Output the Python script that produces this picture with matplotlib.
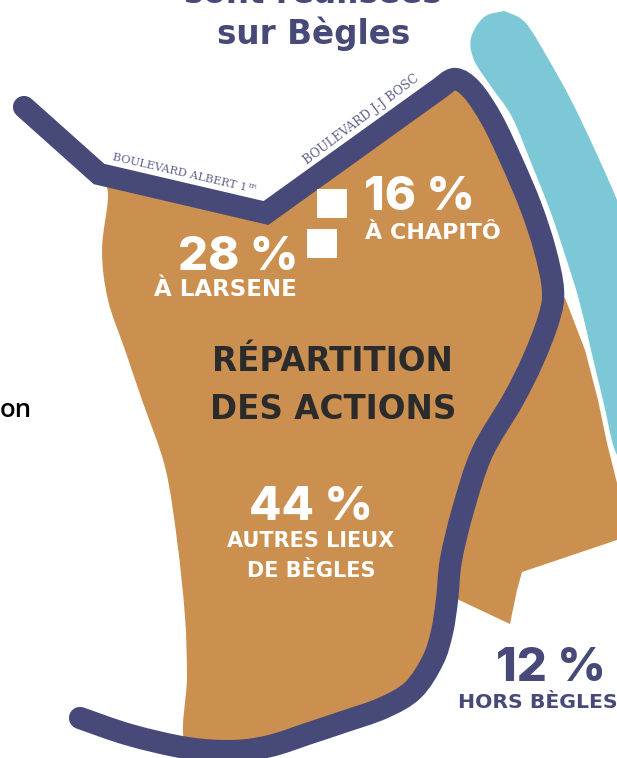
# Carte de répartition des actions sur Bègles
import matplotlib
matplotlib.use('Agg')
import matplotlib.pyplot as plt
from matplotlib.patches import PathPatch, Rectangle
from matplotlib.path import Path

plt.rcParams['font.family'] = ['DejaVu Sans']

# shares of the actions, as printed on the map
shares = [16, 28, 44, 12]
share_labels = ['À CHAPITÔ', 'À LARSENE', 'AUTRES LIEUX\nDE BÈGLES', 'HORS BÈGLES']

# outlines, in image pixels
road_straight = [(24, 107), (99, 174), (266, 213), (440, 88)]
road_curve = [(440, 88), (455, 79), (472, 90), (492, 120), (512, 162), (531, 207), (545, 250), (553, 290),
              (549, 318), (533, 360), (513, 400), (482, 453), (463, 510), (451, 560), (447, 600),
              (442, 632), (433, 660), (413, 690), (383, 708), (343, 722), (310, 733), (270, 746),
              (233, 751), (187, 748), (130, 735), (80, 718)]
river_outline = [(504, 11), (484, 17), (471, 38), (474, 60), (490, 85), (512, 117), (532, 165), (551, 213),
                 (566, 258), (579, 300), (591, 350), (603, 400), (617, 455), (640, 470), (640, 260),
                 (617, 200), (594, 148), (571, 100), (550, 62), (531, 30), (520, 18), (504, 11)]
begles_outline = [(100, 172), (108, 195), (102, 250), (108, 300), (125, 350), (142, 400), (165, 467),
                  (177, 540), (185, 617), (187, 677), (186, 745), (233, 750), (300, 738), (343, 720),
                  (413, 688), (443, 633), (448, 593), (460, 517), (480, 455), (513, 400), (552, 310),
                  (553, 283), (531, 207), (492, 117), (455, 85), (360, 150), (266, 213), (190, 195),
                  (100, 172)]
outside_outline = [(553, 290), (565, 298), (585, 350), (598, 400), (607, 443), (617, 483), (617, 540),
                   (522, 572), (517, 590), (510, 624), (459, 600), (448, 593), (460, 517), (480, 455),
                   (513, 400), (545, 325)]

NAVY = '#474a78'
ORANGE = '#cb9050'
BLUE = '#7cc8d6'


def smooth_segments(points):
    # catmull-rom through the points, returned as bezier vertices
    verts = []
    for i in range(len(points) - 1):
        p0 = points[max(i - 1, 0)]
        p1 = points[i]
        p2 = points[i + 1]
        p3 = points[min(i + 2, len(points) - 1)]
        verts.append((p1[0] + (p2[0] - p0[0]) / 6, p1[1] + (p2[1] - p0[1]) / 6))
        verts.append((p2[0] - (p3[0] - p1[0]) / 6, p2[1] - (p3[1] - p1[1]) / 6))
        verts.append(p2)
    return verts


def smooth_path(points):
    curve = smooth_segments(points)
    return Path([points[0]] + curve, [Path.MOVETO] + [Path.CURVE4] * len(curve))


fig = plt.figure(figsize=(6.17, 7.58), dpi=100)
ax = fig.add_axes([0, 0, 1, 1])
ax.set_xlim(0, 617)
ax.set_ylim(758, 0)
ax.axis('off')

ax.add_patch(PathPatch(smooth_path(river_outline), facecolor=BLUE, edgecolor='none'))
ax.add_patch(PathPatch(smooth_path(begles_outline), facecolor=ORANGE, edgecolor='none'))
ax.fill([p[0] for p in outside_outline], [p[1] for p in outside_outline], color=ORANGE, lw=0)

# the road: straight boulevards, then the curved part
curve = smooth_segments(road_curve)
road_verts = road_straight + curve
road_codes = [Path.MOVETO] + [Path.LINETO] * (len(road_straight) - 1) + [Path.CURVE4] * len(curve)
ax.add_patch(PathPatch(Path(road_verts, road_codes), facecolor='none', edgecolor=NAVY, lw=16,
                       capstyle='round', joinstyle='miter'))

ax.add_patch(Rectangle((317, 189), 30, 29, facecolor='white', edgecolor='none'))
ax.add_patch(Rectangle((307, 229), 30, 29, facecolor='white', edgecolor='none'))

# title, cut by the top of the image
ax.text(313, 3, 'sont réalisées', fontsize=23.5, fontweight='bold', color=NAVY, ha='center', va='baseline')
ax.text(314, 44, 'sur Bègles', fontsize=23.5, fontweight='bold', color=NAVY, ha='center', va='baseline')
ax.text(0, 417, 'on', fontsize=18.5, family='Open Sans', fontweight='semibold', color='black', ha='left', va='baseline')

# road names
ax.text(113, 157, 'BOULEVARD ALBERT 1', fontsize=8.1, family='DejaVu Serif', color='#5f628c',
        rotation=-13, rotation_mode='anchor', ha='left', va='center')
ax.text(248, 186, 'ER', fontsize=4.5, family='DejaVu Serif', color='#5f628c',
        rotation=-13, rotation_mode='anchor', ha='left', va='center')
ax.text(305, 162, 'BOULEVARD J-J BOSC', fontsize=8.8, family='DejaVu Serif', color='#5f628c',
        rotation=37, rotation_mode='anchor', ha='left', va='center')

# centre title
ax.text(332, 371, 'RÉPARTITION', fontsize=23.5, fontweight='bold', color='#2b2b2b', ha='center', va='baseline')
ax.text(333, 419, 'DES ACTIONS', fontsize=23.5, fontweight='bold', color='#2b2b2b', ha='center', va='baseline')

# percentages and their labels
pct_font = dict(family='Inter', fontsize=34, fontweight='heavy', ha='center', va='baseline')
ax.text(420, 210, f'{shares[0]} %', color='white', **pct_font)
ax.text(433, 239, share_labels[0], fontsize=16, fontweight='bold', color='white', ha='center', va='baseline')
ax.text(238, 270, f'{shares[1]} %', color='white', **pct_font)
ax.text(225, 296, share_labels[1], fontsize=16.5, fontweight='bold', color='white', ha='center', va='baseline')
ax.text(311, 520, f'{shares[2]} %', color='white', **pct_font)
for line, y in zip(share_labels[2].split('\n'), [547, 577]):
    ax.text(311, y, line, fontsize=15, fontweight='bold', color='white', ha='center', va='baseline')
ax.text(551, 681, f'{shares[3]} %', color=NAVY, **pct_font)
ax.text(538, 708, share_labels[3], fontsize=14.7, fontweight='bold', color=NAVY, ha='center', va='baseline')

plt.savefig('out.png', dpi=100)
plt.close()
